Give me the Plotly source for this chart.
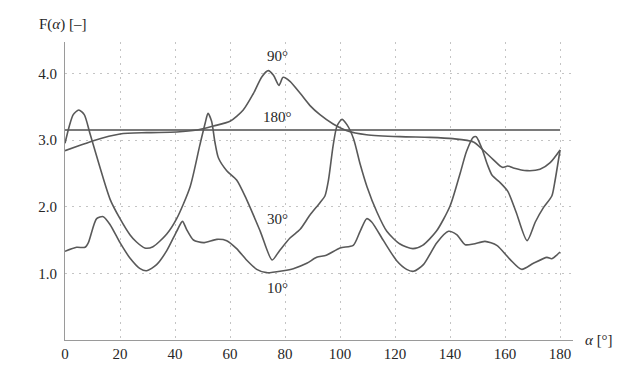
import plotly.graph_objects as go

# ---- data ----
alpha_90 = [0, 5.5, 10.3, 20, 29.7, 40.6, 48, 54, 60, 64.8, 68.4, 71.6, 73.9, 75.8, 77.8, 79.3, 81.8,
            85.5, 89, 92.7, 97.5, 102.5, 109.6, 121.8, 132.7, 141, 148.5, 152, 155.6, 159, 161, 163,
            168, 172.7, 176.4, 180]
F_90 = [2.84, 2.92, 2.99, 3.09, 3.11, 3.12, 3.15, 3.21, 3.28, 3.45, 3.69, 3.95, 4.04, 3.97, 3.82, 3.94,
        3.88, 3.70, 3.52, 3.38, 3.24, 3.14, 3.08, 3.05, 3.04, 3.02, 2.97, 2.85, 2.71, 2.59, 2.61, 2.58,
        2.54, 2.56, 2.66, 2.85]

alpha_180 = [0, 180]
F_180 = [3.15, 3.15]

alpha_30 = [0, 1.5, 3, 5, 7, 9, 12.7, 16.4, 20, 23.6, 26, 29, 32, 37, 40.6, 45.5, 49, 51, 52, 53.3,
            54.5, 55.8, 58.8, 62.4, 66, 71, 75.3, 78, 81.8, 85.5, 89, 92.7, 94.5, 95.8, 97.5, 98.9,
            100.7, 102.5, 104.9, 107.3, 109.8, 113.4, 117, 121.8, 126.5, 130, 135, 140, 143.6, 146,
            148.4, 149.5, 151.6, 153.5, 155.3, 158, 161, 164, 168, 171, 174, 177, 178, 180]
F_30 = [2.95, 3.2, 3.38, 3.45, 3.38, 3.11, 2.59, 2.11, 1.82, 1.58, 1.47, 1.38, 1.40, 1.59, 1.82, 2.3,
        2.92, 3.26, 3.4, 3.28, 2.97, 2.73, 2.54, 2.4, 2.11, 1.63, 1.2, 1.34, 1.53, 1.66, 1.87, 2.06,
        2.16, 2.4, 2.92, 3.21, 3.31, 3.23, 3.02, 2.64, 2.3, 1.92, 1.63, 1.44, 1.37, 1.42, 1.63, 2.01,
        2.49, 2.83, 3.04, 3.05, 2.87, 2.64, 2.47, 2.37, 2.23, 1.92, 1.49, 1.77, 1.99, 2.16, 2.35, 2.85]

alpha_10 = [0, 4.2, 7.3, 8.5, 11.5, 13.9, 16.4, 20, 23.6, 27.3, 29.7, 33.3, 37, 40.6, 42.7, 44.2,
            46.7, 50.3, 55.2, 58.8, 62.4, 66, 69.7, 73.3, 79.4, 83, 87.9, 91.5, 95, 100, 104.8, 107.3,
            109.7, 111.5, 115.8, 120.6, 124.2, 126.7, 130.3, 135.2, 139.4, 142.4, 145.5, 148.5,
            152.7, 157, 161.8, 166, 170.3, 175.2, 177, 180]
F_10 = [1.33, 1.39, 1.39, 1.46, 1.82, 1.85, 1.73, 1.46, 1.23, 1.07, 1.04, 1.13, 1.34, 1.63, 1.78, 1.66,
        1.5, 1.46, 1.51, 1.49, 1.37, 1.2, 1.06, 1.01, 1.04, 1.07, 1.15, 1.24, 1.27, 1.38, 1.42, 1.63,
        1.82, 1.77, 1.49, 1.19, 1.06, 1.03, 1.13, 1.46, 1.63, 1.58, 1.43, 1.44, 1.48, 1.42, 1.21,
        1.06, 1.15, 1.24, 1.22, 1.32]

x_ticks = [0, 20, 40, 60, 80, 100, 120, 140, 160, 180]
y_ticks = [1.0, 2.0, 3.0, 4.0]
y_tick_labels = ["1.0", "2.0", "3.0", "4.0"]

curve_labels = ["90°", "180°", "30°", "10°"]
label_pos_x = [77.1, 77.1, 77.1, 77.1]
label_pos_y = [4.26, 3.35, 1.82, 0.78]

FONT = "Liberation Serif"
TXT = "#262626"
LINE = "#595959"
FS = 15

fig = go.Figure()
for xs, ys, col, w in [(alpha_180, F_180, "#7a7a7a", 1.8),
                       (alpha_90, F_90, LINE, 1.6),
                       (alpha_30, F_30, LINE, 1.6),
                       (alpha_10, F_10, LINE, 1.6)]:
    fig.add_trace(go.Scatter(x=xs, y=ys, mode="lines",
                             line=dict(color=col, width=w, shape="spline", smoothing=0.7),
                             showlegend=False, hoverinfo="skip"))

for t, lx, ly in zip(curve_labels, label_pos_x, label_pos_y):
    fig.add_annotation(x=lx, y=ly, text=t, showarrow=False, xanchor="center", yanchor="middle",
                       font=dict(family=FONT, size=FS, color=TXT))

fig.add_annotation(xref="paper", yref="paper", x=0, y=1.06, xshift=-28, text="F(<i>α</i>) [–]",
                   showarrow=False, xanchor="left", yanchor="middle",
                   font=dict(family=FONT, size=FS, color=TXT))
fig.add_annotation(xref="paper", yref="paper", x=1, y=0, xshift=10, text="<i>α</i> [°]",
                   showarrow=False, xanchor="left", yanchor="middle",
                   font=dict(family=FONT, size=FS, color=TXT))

fig.update_layout(
    width=638, height=374,
    margin=dict(l=65, r=65, t=42, b=20),
    paper_bgcolor="white", plot_bgcolor="white",
    font=dict(family=FONT, size=FS, color=TXT),
    xaxis=dict(range=[0, 184.7], tickvals=x_ticks, ticks="", showline=True, linecolor="#9a9a9a",
               linewidth=1.2, showgrid=True, gridcolor="#c4c4c4", griddash="2px,5px", gridwidth=1,
               zeroline=False, tickfont=dict(family=FONT, size=FS, color=TXT)),
    yaxis=dict(range=[0, 4.47], tickvals=y_ticks, ticktext=y_tick_labels, ticks="", showline=True,
               linecolor="#9a9a9a", linewidth=1.2, showgrid=True, gridcolor="#c4c4c4",
               griddash="2px,5px", gridwidth=1, zeroline=False, ticklabelstandoff=4,
               tickfont=dict(family=FONT, size=FS, color=TXT)),
)

fig.write_html("out.html")
